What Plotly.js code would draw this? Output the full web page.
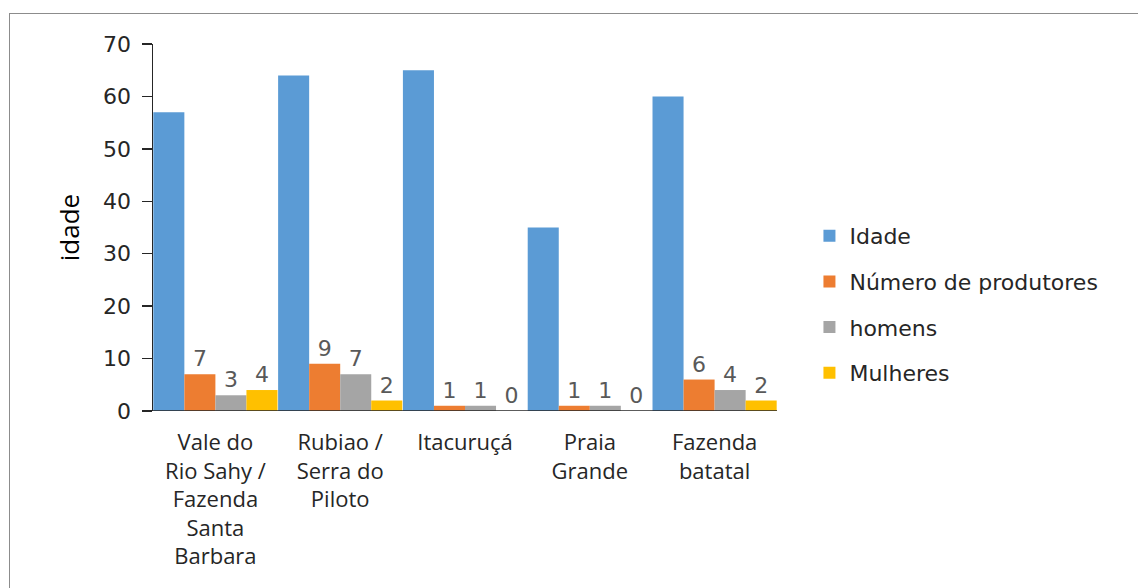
<!DOCTYPE html>
<html>
<head>
<meta charset="utf-8">
<script src="https://cdn.plot.ly/plotly-3.0.1.min.js"></script>
<style>
html,body{margin:0;padding:0;background:#fff;}
#chart{width:1138px;height:588px;}
#frame{position:absolute;left:9px;top:13px;width:1140px;height:590px;border:1px solid #8c8c8c;box-sizing:border-box;pointer-events:none;}
</style>
</head>
<body>
<div id="chart"></div>
<div id="frame"></div>
<script>
const categories = [
  "Vale do<br>Rio Sahy /<br>Fazenda<br>Santa<br>Barbara",
  "Rubiao /<br>Serra do<br>Piloto",
  "Itacuruçá",
  "Praia<br>Grande",
  "Fazenda<br>batatal"
];
const idade = [57, 64, 65, 35, 60];
const numeroProdutores = [7, 9, 1, 1, 6];
const homens = [3, 7, 1, 1, 4];
const mulheres = [4, 2, 0, 0, 2];
const seriesNames = ["Idade", "Número de produtores", "homens", "Mulheres"];
const colors = ["#5B9BD5", "#ED7D31", "#A5A5A5", "#FFC000"];

const labelFont = {family: "DejaVu Sans, Verdana, sans-serif", size: 22, color: "#595959"};

function mk(name, vals, color, showText, grp) {
  return {
    type: "bar",
    name: name,
    x: categories,
    y: vals,
    marker: {color: color},
    text: showText ? vals.map(String) : undefined,
    textposition: showText ? "outside" : "none",
    textfont: labelFont,
    cliponaxis: false,
    legendgroup: grp,
    hoverinfo: "x+y+name"
  };
}

const data = [
  mk(seriesNames[0], idade, colors[0], false, "g0"),
  mk(seriesNames[1], numeroProdutores, colors[1], true, "g1"),
  mk(seriesNames[2], homens, colors[2], true, "g2"),
  mk(seriesNames[3], mulheres, colors[3], true, "g3")
];

const layout = {
  width: 1138,
  height: 588,
  margin: {l: 153, r: 361, t: 44, b: 177},
  paper_bgcolor: "#ffffff",
  plot_bgcolor: "#ffffff",
  barmode: "group",
  bargap: 0.005,
  bargroupgap: 0,
  showlegend: true,
  legend: {
    x: 1.052, y: 0.29, xanchor: "left", yanchor: "middle",
    font: {family: "DejaVu Sans, Verdana, sans-serif", size: 22, color: "#262626"},
    traceorder: "grouped",
    tracegroupgap: 14,
    bgcolor: "rgba(0,0,0,0)"
  },
  xaxis: {
    type: "category",
    showline: false,
    ticks: "",
    showgrid: false,
    ticklabelstandoff: 16,
    tickfont: {family: "Open Sans, Lato, sans-serif", size: 22, color: "#262626"},
    automargin: false
  },
  yaxis: {
    range: [0, 70],
    dtick: 10,
    tick0: 0,
    showgrid: false,
    zeroline: false,
    showline: true,
    linecolor: "#262626",
    linewidth: 1.5,
    ticks: "outside",
    ticklen: 10,
    tickcolor: "#262626",
    tickwidth: 1.5,
    ticklabelstandoff: 6,
    tickfont: {family: "DejaVu Sans, Verdana, sans-serif", size: 22, color: "#262626"},
    title: {text: "idade", font: {family: "Open Sans, Lato, sans-serif", size: 26, color: "#000000"}, standoff: 16},
    automargin: false
  },
  shapes: [{
    type: "line", xref: "paper", yref: "y",
    x0: -0.016, x1: 1, y0: 0, y1: 0,
    line: {color: "#262626", width: 1.5}
  }]
};

Plotly.newPlot("chart", data, layout, {displayModeBar: false, staticPlot: true});
</script>
</body>
</html>
